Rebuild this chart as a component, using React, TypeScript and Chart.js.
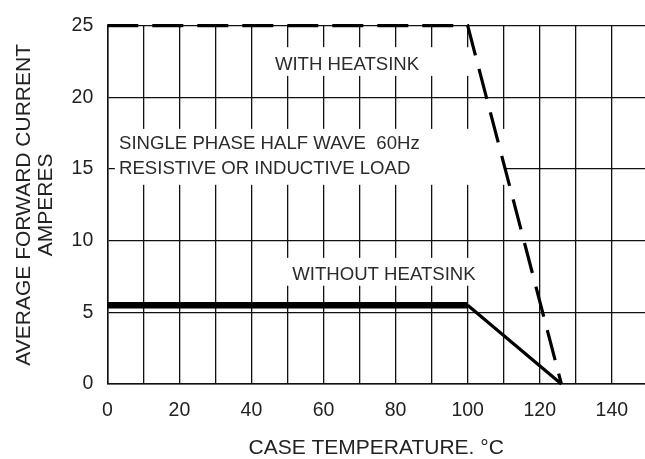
import React, { useEffect, useRef } from "react";
import { Chart, registerables } from "chart.js";

Chart.register(...registerables);

// ---- data ----
const withHeatsinkTemp = [0, 100, 126];
const withHeatsinkCurrent = [25, 25, 0];
const withoutFlatTemp = [0, 100];
const withoutFlatCurrent = [5.5, 5.5];
const withoutSlopeTemp = [100, 126];
const withoutSlopeCurrent = [5.5, 0];
const xGridValues = [0, 10, 20, 30, 40, 50, 60, 70, 80, 90, 100, 110, 120, 130, 140];
const xTickLabels = [0, 20, 40, 60, 80, 100, 120, 140];
const yTickLabels = [0, 5, 10, 15, 20, 25];
const xTitle = "CASE TEMPERATURE. °C";
const yTitle = ["AVERAGE FORWARD CURRENT", "AMPERES"];
const noteWith = ["WITH HEATSINK"];
const noteLoad = ["SINGLE PHASE HALF WAVE  60Hz", "RESISTIVE OR INDUCTIVE LOAD"];
const noteWithout = ["WITHOUT HEATSINK"];

const FAMILY = '"Liberation Sans", Arial, Helvetica, sans-serif';
const INK = "#111";
const TEXT = "#2b2b2b";

type Note = {
  lines: string[];
  textX: number;
  lineY: number[];
  box: [number, number, number, number]; // x0, y0, x1, y1 in data units
};

const notes: Note[] = [
  { lines: noteWith, textX: 46.5, lineY: [22.3], box: [42.4, 23.5, 101.3, 21.5] },
  { lines: noteLoad, textX: 3.25, lineY: [16.75, 15.03], box: [2.1, 17.8, 110.6, 13.9] },
  { lines: noteWithout, textX: 51.3, lineY: [7.62], box: [49.3, 8.8, 104.1, 6.86] },
];

const notesPlugin = {
  id: "notesPlugin",
  beforeDatasetsDraw(chart: any) {
    const { ctx, scales } = chart;
    const xs = scales.x;
    const ys = scales.y;
    ctx.save();
    for (const n of notes) {
      const x0 = xs.getPixelForValue(n.box[0]);
      const x1 = xs.getPixelForValue(n.box[2]);
      const y0 = ys.getPixelForValue(n.box[1]);
      const y1 = ys.getPixelForValue(n.box[3]);
      ctx.fillStyle = "#ffffff";
      ctx.fillRect(x0, y0, x1 - x0, y1 - y0);
      ctx.fillStyle = TEXT;
      ctx.font = `18.6px ${FAMILY}`;
      ctx.textAlign = "left";
      ctx.textBaseline = "middle";
      n.lines.forEach((t, i) => {
        ctx.fillText(t, xs.getPixelForValue(n.textX), ys.getPixelForValue(n.lineY[i]));
      });
    }
    ctx.restore();
  },
};

export default function App() {
  const ref = useRef<HTMLCanvasElement | null>(null);

  useEffect(() => {
    if (!ref.current) return;
    const chart = new Chart(ref.current, {
      type: "line",
      data: {
        datasets: [
          {
            label: "With heatsink",
            data: withHeatsinkTemp.map((x, i) => ({ x, y: withHeatsinkCurrent[i] })),
            borderColor: "#000",
            borderWidth: 3.2,
            borderDash: [31, 14],
            pointRadius: 0,
            fill: false,
            tension: 0,
            clip: false,
          },
          {
            label: "Without heatsink",
            data: withoutFlatTemp.map((x, i) => ({ x, y: withoutFlatCurrent[i] })),
            borderColor: "#000",
            borderWidth: 6.5,
            pointRadius: 0,
            fill: false,
            tension: 0,
            clip: false,
          },
          {
            label: "Without heatsink derating",
            data: withoutSlopeTemp.map((x, i) => ({ x, y: withoutSlopeCurrent[i] })),
            borderColor: "#000",
            borderWidth: 3.2,
            pointRadius: 0,
            fill: false,
            tension: 0,
            clip: false,
          },
        ],
      },
      options: {
        animation: false,
        responsive: true,
        maintainAspectRatio: false,
        layout: { padding: { top: 23.3, right: 0, left: 0, bottom: 0 } },
        plugins: {
          legend: { display: false },
          tooltip: { enabled: false },
        },
        scales: {
          x: {
            type: "linear",
            min: 0,
            max: 149.2,
            afterBuildTicks: (s: any) => {
              s.ticks = xGridValues.map((v) => ({ value: v }));
            },
            afterFit: (s: any) => {
              s.height = 75;
            },
            ticks: {
              autoSkip: false,
              maxRotation: 0,
              padding: 15,
              color: "#222",
              font: { family: FAMILY, size: 19.5 },
              callback: (v: any) => (xTickLabels.includes(Number(v)) ? String(v) : ""),
            },
            grid: { color: INK, lineWidth: 1.3, drawTicks: false },
            border: { color: INK, width: 1.5 },
            title: {
              display: true,
              text: xTitle,
              color: "#222",
              font: { family: FAMILY, size: 21, lineHeight: 1 },
              padding: { top: 0, bottom: 0 },
            },
          },
          y: {
            type: "linear",
            min: 0,
            max: 25,
            afterBuildTicks: (s: any) => {
              s.ticks = yTickLabels.map((v) => ({ value: v }));
            },
            afterFit: (s: any) => {
              s.width = 107.3;
            },
            ticks: {
              padding: 14,
              color: "#222",
              font: { family: FAMILY, size: 19.5 },
            },
            grid: { color: INK, lineWidth: 1.3, drawTicks: false },
            border: { color: INK, width: 1.5 },
            title: {
              display: true,
              text: yTitle,
              color: "#222",
              font: { family: FAMILY, size: 21, lineHeight: 22 / 21 },
              padding: { top: 13, bottom: 0 },
            },
          },
        },
      },
      plugins: [notesPlugin],
    } as any);
    return () => chart.destroy();
  }, []);

  return (
    <div style={{ position: "fixed", left: 0, top: 0, width: 645, height: 459, background: "#fff" }}>
      <canvas ref={ref} />
    </div>
  );
}
